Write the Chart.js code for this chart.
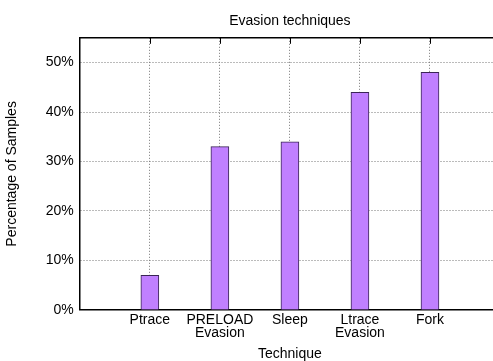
<!DOCTYPE html>
<html><head><meta charset="utf-8">
<script src="https://cdn.jsdelivr.net/npm/chart.js@4/dist/chart.umd.min.js"></script>
<style>
html,body{margin:0;padding:0;background:#fff;overflow:hidden}
#wrap{width:493px;height:361px;overflow:hidden;position:relative}
canvas{display:block}
</style></head><body>
<div id="wrap"><canvas id="c" width="512" height="361"></canvas></div>
<script>
// Share of samples using each evasion technique
const techniques = [['Ptrace'], ['PRELOAD', 'Evasion'], ['Sleep'], ['Ltrace', 'Evasion'], ['Fork']];
const positions = [1, 2, 3, 4, 5];
const percentages = [7, 33, 34, 44, 48];
const yTicks = [0, 10, 20, 30, 40, 50];

const FONT = 'Liberation Sans, Arial, Helvetica, sans-serif';

// Solid top edge of the plot with small inward tick marks
const framePlugin = {
  id: 'frame',
  afterDraw(chart) {
    const {ctx, chartArea: a, scales} = chart;
    ctx.save();
    ctx.strokeStyle = '#000';
    ctx.lineWidth = 1.5;
    ctx.beginPath();
    ctx.moveTo(a.left, a.top);
    ctx.lineTo(a.right, a.top);
    ctx.stroke();
    ctx.lineWidth = 1;
    ctx.beginPath();
    positions.forEach(p => {
      const x = Math.round(scales.x.getPixelForValue(p)) + 0.5;
      ctx.moveTo(x, a.top);
      ctx.lineTo(x, a.top + 6);
    });
    ctx.stroke();
    ctx.restore();
  }
};

new Chart(document.getElementById('c'), {
  type: 'bar',
  data: {
    datasets: [{
      data: positions.map((x, i) => ({x, y: percentages[i]})),
      backgroundColor: '#c080ff',
      borderColor: '#3a2555',
      borderWidth: 1,
      barThickness: 18
    }]
  },
  options: {
    responsive: false,
    animation: false,
    layout: {padding: {left: 2, right: 12, top: 0, bottom: 0}},
    plugins: {
      legend: {display: false},
      tooltip: {enabled: false},
      title: {
        display: true,
        text: 'Evasion techniques',
        fullSize: false,
        color: '#000',
        font: {family: FONT, size: 14, weight: 'normal'},
        padding: {top: 13, bottom: 8}
      }
    },
    scales: {
      x: {
        type: 'linear',
        min: 0,
        max: 6,
        offset: false,
        afterBuildTicks: s => { s.ticks = positions.map(v => ({value: v})); },
        ticks: {
          autoSkip: false,
          maxRotation: 0,
          padding: 4,
          color: '#000',
          font: {family: FONT, size: 14, lineHeight: 0.93},
          callback: v => techniques[v - 1] || ''
        },
        grid: {color: '#777', lineWidth: 1, drawTicks: false, offset: false},
        border: {color: '#000', width: 1.5, dash: [1, 2]},
        title: {
          display: true,
          text: 'Technique',
          color: '#000',
          font: {family: FONT, size: 14, lineHeight: 1},
          padding: {top: 3, bottom: 0}
        }
      },
      y: {
        min: 0,
        max: 55,
        afterBuildTicks: s => { s.ticks = yTicks.map(v => ({value: v})); },
        ticks: {
          padding: 6,
          color: '#000',
          font: {family: FONT, size: 14},
          callback: v => v + '%'
        },
        grid: {color: '#777', lineWidth: 1, drawTicks: false},
        border: {color: '#000', width: 1.5, dash: [1, 2]},
        title: {
          display: true,
          text: 'Percentage of Samples',
          color: '#000',
          font: {family: FONT, size: 14},
          padding: {top: 2, bottom: 19}
        }
      }
    }
  },
  plugins: [framePlugin]
});
</script>
</body></html>
